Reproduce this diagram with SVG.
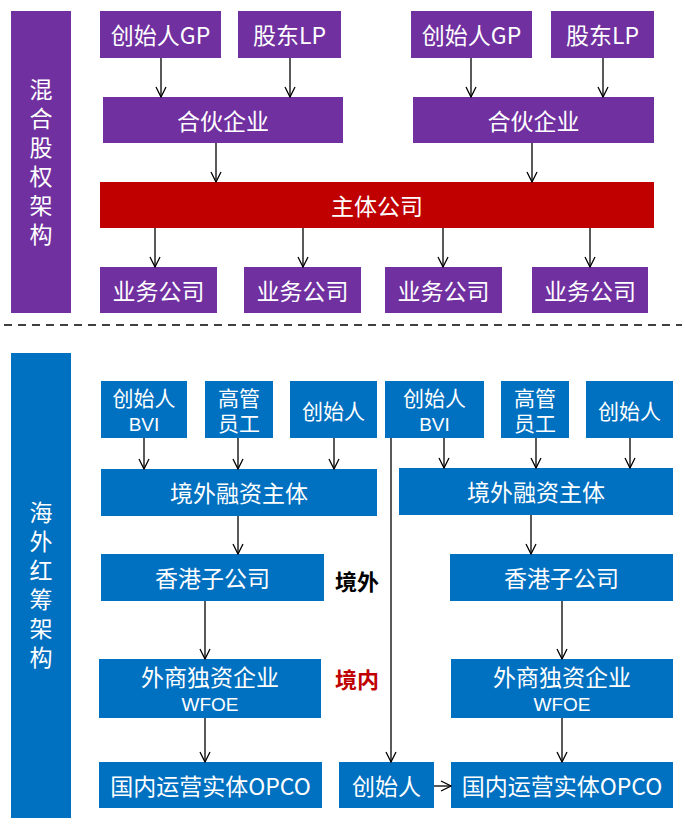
<svg xmlns="http://www.w3.org/2000/svg" width="685" height="825" viewBox="0 0 685 825">
<style>
  .p{fill:#7030A0}
  .r{fill:#C00000}
  .b{fill:#0070C0}
  text{font-family:"Noto Sans CJK SC","Noto Sans",sans-serif;fill:#fff;text-anchor:middle;dominant-baseline:central}
  .t23{font-size:23px}
  .t21{font-size:21px}
  .lat{font-family:"Liberation Sans","Noto Sans",sans-serif;font-size:19px}
  .vert{font-size:23px;writing-mode:vertical-rl;letter-spacing:6px}
  .lbl{font-size:22px;font-weight:bold}
  .c line{stroke:#000;stroke-width:1.3;marker-end:url(#ah)}
  .dash{stroke:#404040;stroke-width:2;stroke-dasharray:8 6}
</style>
<defs>
  <marker id="ah" viewBox="0 0 12 12" refX="11" refY="6" markerWidth="12" markerHeight="12" markerUnits="userSpaceOnUse" orient="auto">
    <path d="M1,1 L11,6 L1,11" fill="none" stroke="#000" stroke-width="1.3"/>
  </marker>
</defs>
<rect width="685" height="825" fill="#fff"/>

<!-- Top section -->
<g id="label-mixed">
  <rect class="p" x="11" y="11" width="60" height="302"/>
  <text class="vert" x="41" y="165">混合股权架构</text>
</g>
<g id="gp1"><rect class="p" x="100" y="11" width="121" height="47"/><text class="t23" x="160.5" y="34">创始人GP</text></g>
<g id="lp1"><rect class="p" x="238" y="11" width="103" height="47"/><text class="t23" x="289.5" y="34">股东LP</text></g>
<g id="gp2"><rect class="p" x="411" y="11" width="121" height="47"/><text class="t23" x="471.5" y="34">创始人GP</text></g>
<g id="lp2"><rect class="p" x="551" y="11" width="103" height="47"/><text class="t23" x="602.5" y="34">股东LP</text></g>
<g id="hh1"><rect class="p" x="103" y="97" width="240" height="46"/><text class="t23" x="223" y="120">合伙企业</text></g>
<g id="hh2"><rect class="p" x="413" y="97" width="241" height="46"/><text class="t23" x="533.5" y="120">合伙企业</text></g>
<g id="main"><rect class="r" x="100" y="182" width="554" height="46"/><text class="t23" x="377" y="205">主体公司</text></g>
<g id="biz1"><rect class="p" x="100" y="267" width="117" height="46"/><text class="t23" x="158.5" y="290">业务公司</text></g>
<g id="biz2"><rect class="p" x="244" y="267" width="117" height="46"/><text class="t23" x="302.5" y="290">业务公司</text></g>
<g id="biz3"><rect class="p" x="385" y="267" width="117" height="46"/><text class="t23" x="443.5" y="290">业务公司</text></g>
<g id="biz4"><rect class="p" x="532" y="267" width="116" height="46"/><text class="t23" x="590" y="290">业务公司</text></g>

<line class="dash" x1="4" y1="325" x2="682" y2="325"/>

<!-- Bottom section -->
<g id="label-redchip">
  <rect class="b" x="11" y="353" width="60" height="465"/>
  <text class="vert" x="41" y="588">海外红筹架构</text>
</g>
<g id="bvi1"><rect class="b" x="101" y="381" width="86" height="57"/><text class="t21" x="144" y="397">创始人</text><text class="lat" x="144" y="424">BVI</text></g>
<g id="exec1"><rect class="b" x="205" y="381" width="68" height="57"/><text class="t21"><tspan x="239" y="397">高管</tspan><tspan x="239" y="422">员工</tspan></text></g>
<g id="fd1"><rect class="b" x="290" y="381" width="87" height="57"/><text class="t21" x="333.5" y="410">创始人</text></g>
<g id="bvi2"><rect class="b" x="385" y="381" width="99" height="57"/><text class="t21" x="434.5" y="397">创始人</text><text class="lat" x="434.5" y="424">BVI</text></g>
<g id="exec2"><rect class="b" x="501" y="381" width="68" height="57"/><text class="t21"><tspan x="535" y="397">高管</tspan><tspan x="535" y="422">员工</tspan></text></g>
<g id="fd2"><rect class="b" x="586" y="381" width="87" height="57"/><text class="t21" x="629.5" y="410">创始人</text></g>
<g id="fin1"><rect class="b" x="101" y="469" width="276" height="47"/><text class="t23" x="239" y="492">境外融资主体</text></g>
<g id="fin2"><rect class="b" x="399" y="468" width="274" height="47"/><text class="t23" x="536" y="491">境外融资主体</text></g>
<g id="hk1"><rect class="b" x="101" y="554" width="223" height="47"/><text class="t23" x="212.5" y="577">香港子公司</text></g>
<g id="hk2"><rect class="b" x="450" y="554" width="223" height="47"/><text class="t23" x="561.5" y="577">香港子公司</text></g>
<g id="wfoe1"><rect class="b" x="99" y="659" width="222" height="59"/><text class="t23" x="210" y="676">外商独资企业</text><text class="lat" x="210" y="704">WFOE</text></g>
<g id="wfoe2"><rect class="b" x="451" y="659" width="222" height="59"/><text class="t23" x="562" y="676">外商独资企业</text><text class="lat" x="562" y="704">WFOE</text></g>
<g id="opco1"><rect class="b" x="99" y="762" width="223" height="46"/><text class="t23" x="210.5" y="785">国内运营实体OPCO</text></g>
<g id="fd3"><rect class="b" x="339" y="762" width="95" height="46"/><text class="t23" x="386.5" y="785">创始人</text></g>
<g id="opco2"><rect class="b" x="451" y="762" width="222" height="46"/><text class="t23" x="562" y="785">国内运营实体OPCO</text></g>

<g id="label-offshore"><text class="lbl" x="357" y="580" style="fill:#000">境外</text></g>
<g id="label-onshore"><text class="lbl" x="357" y="678" style="fill:#C00000">境内</text></g>

<g id="connectors" class="c">
  <line x1="161" y1="58" x2="161" y2="97"/>
  <line x1="290" y1="58" x2="290" y2="97"/>
  <line x1="471" y1="58" x2="471" y2="97"/>
  <line x1="603" y1="58" x2="603" y2="97"/>
  <line x1="216" y1="143" x2="216" y2="182"/>
  <line x1="532" y1="143" x2="532" y2="182"/>
  <line x1="155" y1="228" x2="155" y2="267"/>
  <line x1="303" y1="228" x2="303" y2="267"/>
  <line x1="443" y1="228" x2="443" y2="267"/>
  <line x1="590" y1="228" x2="590" y2="267"/>

  <line x1="144" y1="438" x2="144" y2="469"/>
  <line x1="238" y1="438" x2="238" y2="469"/>
  <line x1="334" y1="438" x2="334" y2="469"/>
  <line x1="444" y1="438" x2="444" y2="468"/>
  <line x1="536" y1="438" x2="536" y2="468"/>
  <line x1="630" y1="438" x2="630" y2="468"/>
  <line x1="238" y1="516" x2="238" y2="554"/>
  <line x1="531" y1="515" x2="531" y2="554"/>
  <line x1="205" y1="601" x2="205" y2="659"/>
  <line x1="562" y1="601" x2="562" y2="659"/>
  <line x1="205" y1="718" x2="205" y2="762"/>
  <line x1="562" y1="718" x2="562" y2="762"/>
  <line x1="391" y1="438" x2="391" y2="762"/>
  <line x1="434" y1="786" x2="451" y2="786"/>
</g>
</svg>
